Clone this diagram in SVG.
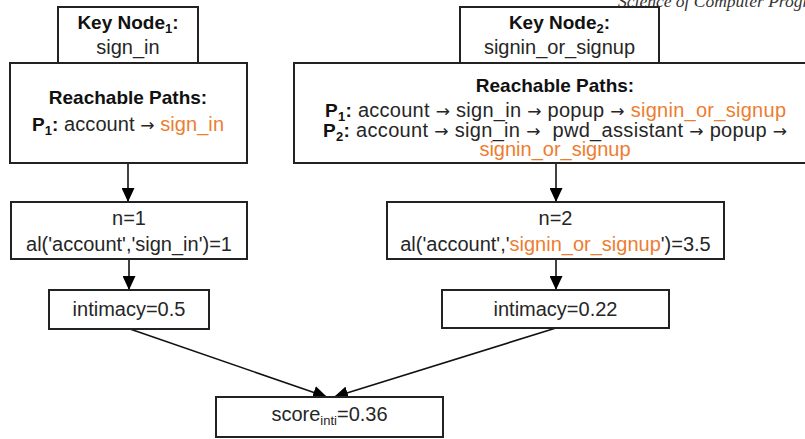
<svg xmlns="http://www.w3.org/2000/svg" width="805" height="439" viewBox="0 0 805 439">
  <style>
    .box { fill: #ffffff; stroke: #222222; stroke-width: 2; }
    .t { font-family: "Liberation Sans", Arial, sans-serif; font-size: 20px; fill: #262626; text-anchor: middle; }
    .b { font-weight: bold; font-size: 19px; fill: #111111; }
    .hl { fill: #ED7D31; }
    .sub { font-size: 13px; }
    .ar { font-family: "DejaVu Sans", sans-serif; font-size: 17px; }
    .edge { stroke: #111111; stroke-width: 1.6; fill: none; marker-end: url(#arrow); }
    .journal { font-family: "Liberation Serif", "Times New Roman", serif; font-style: italic; font-size: 17.5px; fill: #333333; }
  </style>
  <defs>
    <marker id="arrow" markerUnits="userSpaceOnUse" markerWidth="14" markerHeight="13" refX="14" refY="6.5" orient="auto">
      <path d="M0,0 L14,6.5 L0,13 Z" fill="#000000"/>
    </marker>
  </defs>

  <rect width="805" height="439" fill="#ffffff"/>

  <!-- running header, clipped at the page edge -->
  <text class="journal" x="618" y="7">Science of Computer Programming</text>

  <!-- connectors -->
  <g id="connectors">
    <line class="edge" x1="128" y1="163" x2="128" y2="202"/>
    <line class="edge" x1="129" y1="259" x2="129" y2="290"/>
    <line class="edge" x1="556" y1="163" x2="556" y2="202"/>
    <line class="edge" x1="556" y1="259" x2="556" y2="290"/>
    <line class="edge" x1="130" y1="329" x2="327" y2="397"/>
    <line class="edge" x1="556" y1="328" x2="334" y2="397"/>
  </g>

  <!-- left branch -->
  <g id="keynode1">
    <rect class="box" x="58" y="7" width="140" height="56"/>
    <text class="t b" x="128" y="29">Key Node<tspan class="sub" dy="4">1</tspan><tspan dy="-4">:</tspan></text>
    <text class="t" x="128" y="54">sign_in</text>
  </g>
  <g id="paths1">
    <rect class="box" x="10" y="63" width="237" height="100"/>
    <text class="t b" x="128" y="104">Reachable Paths:</text>
    <text class="t" x="128" y="131" textLength="192" lengthAdjust="spacing"><tspan class="b">P<tspan class="sub" dy="4">1</tspan><tspan dy="-4">:</tspan></tspan> account <tspan class="ar">→</tspan> <tspan class="hl">sign_in</tspan></text>
  </g>
  <g id="al1">
    <rect class="box" x="11" y="202" width="236" height="57"/>
    <text class="t" x="129" y="225">n=1</text>
    <text class="t" x="129" y="251">al('account','sign_in')=1</text>
  </g>
  <g id="intimacy1">
    <rect class="box" x="49" y="290" width="160" height="39"/>
    <text class="t" x="129" y="316">intimacy=0.5</text>
  </g>

  <!-- right branch -->
  <g id="keynode2">
    <rect class="box" x="460" y="7" width="199" height="56"/>
    <text class="t b" x="559.5" y="29">Key Node<tspan class="sub" dy="4">2</tspan><tspan dy="-4">:</tspan></text>
    <text class="t" x="559.5" y="54">signin_or_signup</text>
  </g>
  <g id="paths2">
    <rect class="box" x="294" y="63" width="520" height="100"/>
    <text class="t b" x="555" y="92">Reachable Paths:</text>
    <text class="t" x="555.5" y="117" textLength="461" lengthAdjust="spacing"><tspan class="b">P<tspan class="sub" dy="4">1</tspan><tspan dy="-4">:</tspan></tspan> account <tspan class="ar">→</tspan> sign_in <tspan class="ar">→</tspan> popup <tspan class="ar">→</tspan> <tspan class="hl">signin_or_signup</tspan></text>
    <text class="t" x="555" y="137" textLength="464" lengthAdjust="spacing" xml:space="preserve"><tspan class="b">P<tspan class="sub" dy="4">2</tspan><tspan dy="-4">:</tspan></tspan> account <tspan class="ar">→</tspan> sign_in <tspan class="ar">→</tspan>  pwd_assistant <tspan class="ar">→</tspan> popup <tspan class="ar">→</tspan></text>
    <text class="t hl" x="555" y="156">signin_or_signup</text>
  </g>
  <g id="al2">
    <rect class="box" x="387" y="202" width="337" height="57"/>
    <text class="t" x="555.5" y="225">n=2</text>
    <text class="t" x="555.5" y="251">al('account','<tspan class="hl">signin_or_signup</tspan>')=3.5</text>
  </g>
  <g id="intimacy2">
    <rect class="box" x="442" y="290" width="227" height="38"/>
    <text class="t" x="555.5" y="316">intimacy=0.22</text>
  </g>

  <!-- combined score -->
  <g id="score">
    <rect class="box" x="216" y="397" width="227" height="40"/>
    <text class="t" x="329.5" y="421">score<tspan class="sub" dy="4">inti</tspan><tspan dy="-4">=0.36</tspan></text>
  </g>
</svg>
